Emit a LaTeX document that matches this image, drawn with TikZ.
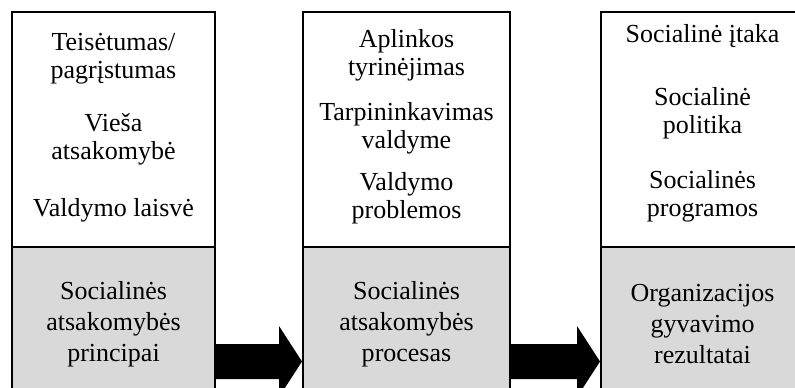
\documentclass[tikz,border=0pt]{standalone}
\usepackage{fontspec}
\setmainfont{Liberation Serif}
\usetikzlibrary{calc}
\tikzset{
  dezute/.style={draw, line width=1pt, minimum height=117.5pt, inner sep=0pt},
  pagrindas/.style={draw, line width=1pt, fill=black!15, minimum height=86.5pt, inner sep=0pt},
  tekstas/.style={align=center, inner sep=0pt, font=\fontsize{13}{14}\selectfont},
  tekstasp/.style={align=center, inner sep=0pt, font=\fontsize{13}{15.5}\selectfont}
}
\begin{document}
\begin{tikzpicture}[x=0.5pt, y=-0.5pt, line join=miter]
\useasboundingbox (0,0) rectangle (795,387);
\clip (0,0) rectangle (795,387);
% stulpeliai
\node[dezute, minimum width=101.5pt] (t1) at (113.5,129.5) {};
\node[dezute, minimum width=103.5pt] (t2) at (406.5,129.5) {};
\node[dezute, minimum width=101.5pt] (t3) at (702.5,129.5) {};
\node[pagrindas, minimum width=101.5pt] (p1) at (113.5,333.5) {};
\node[pagrindas, minimum width=103.5pt] (p2) at (406.5,333.5) {};
\node[pagrindas, minimum width=101.5pt] (p3) at (702.5,333.5) {};
% viršutiniai tekstai
\node[tekstas] (a1) at (113.5,59) {Teisėtumas/\\pagrįstumas};
\node[tekstas] (a2) at (113.5,139) {Vieša\\atsakomybė};
\node[tekstas] (a3) at (113.5,210) {Valdymo laisvė};
\node[tekstas] (b1) at (406.5,55) {Aplinkos\\tyrinėjimas};
\node[tekstas] (b2) at (406.5,128) {Tarpininkavimas\\valdyme};
\node[tekstas] (b3) at (406.5,198) {Valdymo\\problemos};
\node[tekstas] (c1) at (702.5,36) {Socialinė įtaka};
\node[tekstas] (c2) at (702.5,113) {Socialinė\\politika};
\node[tekstas] (c3) at (702.5,196) {Socialinės\\programos};
% apatiniai tekstai
\node[tekstasp] (d1) at (113.5,324) {Socialinės\\atsakomybės\\principai};
\node[tekstasp] (d2) at (406.5,324) {Socialinės\\atsakomybės\\procesas};
\node[tekstasp] (d3) at (702.5,324) {Organizacijos\\gyvavimo\\rezultatai};
% rodyklės
\foreach \a/\b in {p1/p2,p2/p3}
  \fill ($(\a.north east)+(0,98)$) -- ($(\b.north west)+(-23,98)$) -- ($(\b.north west)+(-23,80)$)
    -- ($(\b.north west)+(0,115.5)$) -- ($(\b.north west)+(-23,151)$) -- ($(\b.north west)+(-23,133)$)
    -- ($(\a.north east)+(0,133)$) -- cycle;
\end{tikzpicture}
\end{document}
